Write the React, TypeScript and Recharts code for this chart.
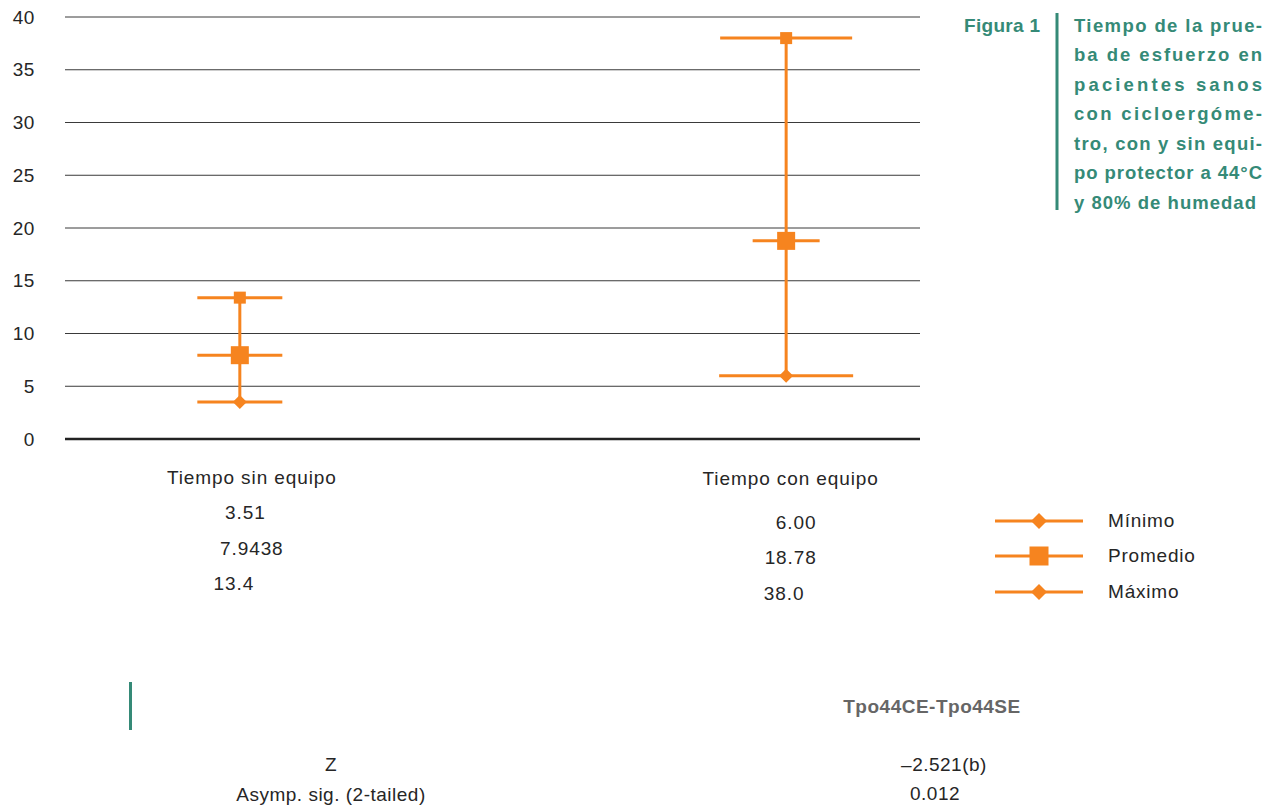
import { CartesianGrid, ComposedChart, ErrorBar, Scatter, XAxis, YAxis } from "recharts";

const CATEGORIES = ["Tiempo sin equipo", "Tiempo con equipo"];
const MINIMO = [3.51, 6.0];
const PROMEDIO = [7.9438, 18.78];
const MAXIMO = [13.4, 38.0];
const MINIMO_LABELS = ["3.51", "6.00"];
const PROMEDIO_LABELS = ["7.9438", "18.78"];
const MAXIMO_LABELS = ["13.4", "38.0"];
const Y_TICKS = [0, 5, 10, 15, 20, 25, 30, 35, 40];

const TITLE_TAG = "Figura 1";
const TITLE_LINES = [
  "Tiempo de la prue-",
  "ba de esfuerzo en",
  "pacientes sanos",
  "con cicloergóme-",
  "tro, con y sin equi-",
  "po protector a 44°C",
  "y 80% de humedad",
];

const STAT_HEADER = "Tpo44CE-Tpo44SE";
const STAT_NAMES = ["Z", "Asymp. sig. (2-tailed)"];
const STAT_VALUES = ["–2.521(b)", "0.012"];

const ORANGE = "#F6841F";
const TEAL = "#358a77";
const INK = "#262626";
const FONT = "'Liberation Sans', Arial, Helvetica, sans-serif";

type SeriesKey = "min" | "mean" | "max";

const SERIES: {
  key: SeriesKey;
  name: string;
  values: number[];
  labels: string[];
  marker: "diamond" | "square";
  size: number;
  legendMarker: "diamond" | "square";
  legendSize: number;
}[] = [
  { key: "min", name: "Mínimo", values: MINIMO, labels: MINIMO_LABELS, marker: "diamond", size: 14, legendMarker: "diamond", legendSize: 16 },
  { key: "mean", name: "Promedio", values: PROMEDIO, labels: PROMEDIO_LABELS, marker: "square", size: 18, legendMarker: "square", legendSize: 19 },
  { key: "max", name: "Máximo", values: MAXIMO, labels: MAXIMO_LABELS, marker: "square", size: 12, legendMarker: "diamond", legendSize: 16 },
];

// half-width of the horizontal whisker per series / category (px)
const WHISKER_HALF: Record<SeriesKey, number[]> = {
  min: [42.5, 67],
  mean: [42.5, 33.5],
  max: [42.5, 66],
};

// offsets of the text under each category (px, from the tick)
const NAME_OFFSET = { dx: [12, 4.5], dy: [38, 39] };
const VALUE_OFFSET: Record<SeriesKey, { dx: number[]; dy: number[] }> = {
  min: { dx: [5.5, 10], dy: [73, 83] },
  mean: { dx: [12, 4.5], dy: [109, 118] },
  max: { dx: [-6, -2], dy: [144, 154] },
};
const STAT_VALUE_DX = [4, -5];

function Marker({ kind, cx, cy, size }: { kind: "diamond" | "square"; cx: number; cy: number; size: number }) {
  const h = size / 2;
  if (kind === "square") {
    return <rect x={cx - h} y={cy - h} width={size} height={size} fill={ORANGE} />;
  }
  return <polygon points={`${cx},${cy - h} ${cx + h},${cy} ${cx},${cy + h} ${cx - h},${cy}`} fill={ORANGE} />;
}

function makeShape(series: (typeof SERIES)[number]) {
  return (props: any) => {
    const { cx, cy, payload } = props;
    if (cx == null || cy == null) return <g />;
    const hw = WHISKER_HALF[series.key][payload.idx];
    return (
      <g>
        <line x1={cx - hw} x2={cx + hw} y1={cy} y2={cy} stroke={ORANGE} strokeWidth={3} />
        <Marker kind={series.marker} cx={cx} cy={cy} size={series.size} />
      </g>
    );
  };
}

function CategoryTick(props: any) {
  const { x, y, payload } = props;
  const i = Number(payload.value) - 1;
  return (
    <g fontFamily={FONT} fontSize={19} fill={INK} letterSpacing={0.9}>
      <text x={x + NAME_OFFSET.dx[i]} y={y + NAME_OFFSET.dy[i]} textAnchor="middle" dominantBaseline="central">
        {CATEGORIES[i]}
      </text>
      {SERIES.map((s) => (
        <text
          key={s.key}
          x={x + VALUE_OFFSET[s.key].dx[i]}
          y={y + VALUE_OFFSET[s.key].dy[i]}
          textAnchor="middle"
          dominantBaseline="central"
        >
          {s.labels[i]}
        </text>
      ))}
    </g>
  );
}

export default function App() {
  const points = (values: number[]) => values.map((y, idx) => ({ x: idx + 1, idx, y }));
  const meanPoints = PROMEDIO.map((y, idx) => ({
    x: idx + 1,
    idx,
    y,
    err: [y - MINIMO[idx], MAXIMO[idx] - y],
  }));

  return (
    <div style={{ position: "absolute", left: 0, top: 0, width: 1274, height: 808, background: "#fff", fontFamily: FONT }}>
      <ComposedChart width={1274} height={620} margin={{ top: 17, right: 354, bottom: 11, left: 0 }}>
        <CartesianGrid vertical={false} stroke="#3a3a3a" strokeWidth={1} />
        <XAxis
          type="number"
          dataKey="x"
          domain={[0.68, 2.245]}
          ticks={[1, 2]}
          allowDataOverflow
          interval={0}
          height={170}
          tickSize={0}
          tickMargin={0}
          tickLine={false}
          axisLine={{ stroke: "#222", strokeWidth: 2.5 }}
          tick={<CategoryTick />}
        />
        <YAxis
          type="number"
          dataKey="y"
          domain={[0, 40]}
          ticks={Y_TICKS}
          interval={0}
          width={65}
          tickSize={0}
          tickMargin={30}
          tickLine={false}
          axisLine={false}
          tick={{ fill: INK, fontSize: 19, fontFamily: FONT, letterSpacing: 0.6 }}
        />
        <Scatter
          name={SERIES[1].name}
          data={meanPoints}
          shape={makeShape(SERIES[1])}
          isAnimationActive={false}
        >
          <ErrorBar dataKey="err" direction="y" width={0} stroke={ORANGE} strokeWidth={3} isAnimationActive={false} />
        </Scatter>
        <Scatter name={SERIES[0].name} data={points(MINIMO)} shape={makeShape(SERIES[0])} isAnimationActive={false} />
        <Scatter name={SERIES[2].name} data={points(MAXIMO)} shape={makeShape(SERIES[2])} isAnimationActive={false} />
      </ComposedChart>

      {/* legend */}
      <div style={{ position: "absolute", left: 995, top: 503 }}>
        {SERIES.map((s) => (
          <div key={s.key} style={{ display: "flex", alignItems: "center", height: 35.5 }}>
            <svg width={88} height={22} style={{ display: "block" }}>
              <line x1={0} x2={88} y1={11} y2={11} stroke={ORANGE} strokeWidth={3} />
              <Marker kind={s.legendMarker} cx={44} cy={11} size={s.legendSize} />
            </svg>
            <span style={{ marginLeft: 25, fontSize: 19, color: INK, letterSpacing: 0.8 }}>{s.name}</span>
          </div>
        ))}
      </div>

      {/* figure caption */}
      <svg style={{ position: "absolute", left: 940, top: 0 }} width={334} height={220}>
        <text
          x={100}
          y={25}
          textAnchor="end"
          dominantBaseline="central"
          fontFamily={FONT}
          fontSize={19}
          fontWeight="bold"
          fill={TEAL}
          textLength={76}
          lengthAdjust="spacing"
        >
          {TITLE_TAG}
        </text>
        <rect x={115.5} y={13} width={3} height={197} fill={TEAL} />
        {TITLE_LINES.map((line, i) => (
          <text
            key={line}
            x={134}
            y={25 + i * 29.5}
            dominantBaseline="central"
            fontFamily={FONT}
            fontSize={18.5}
            fontWeight="bold"
            fill={TEAL}
            textLength={i === TITLE_LINES.length - 1 ? 182 : 188}
            lengthAdjust="spacing"
          >
            {line}
          </text>
        ))}
      </svg>

      {/* test table */}
      <div style={{ position: "absolute", left: 129, top: 682, width: 3, height: 48, background: TEAL }} />
      <div
        style={{
          position: "absolute",
          left: 782,
          top: 695,
          width: 300,
          textAlign: "center",
          fontSize: 19,
          fontWeight: "bold",
          letterSpacing: 0.5,
          lineHeight: "24px",
          color: "#666",
        }}
      >
        {STAT_HEADER}
      </div>
      {STAT_NAMES.map((name, i) => (
        <div key={name}>
          <div
            style={{
              position: "absolute",
              left: 181,
              top: 753 + i * 29.5,
              width: 300,
              textAlign: "center",
              fontSize: 19,
              letterSpacing: 0.5,
              lineHeight: "24px",
              color: INK,
            }}
          >
            {name}
          </div>
          <div
            style={{
              position: "absolute",
              left: 790 + STAT_VALUE_DX[i],
              top: 753 + i * 29,
              width: 300,
              textAlign: "center",
              fontSize: 19,
              letterSpacing: 0.5,
              lineHeight: "24px",
              color: INK,
            }}
          >
            {STAT_VALUES[i]}
          </div>
        </div>
      ))}
    </div>
  );
}
